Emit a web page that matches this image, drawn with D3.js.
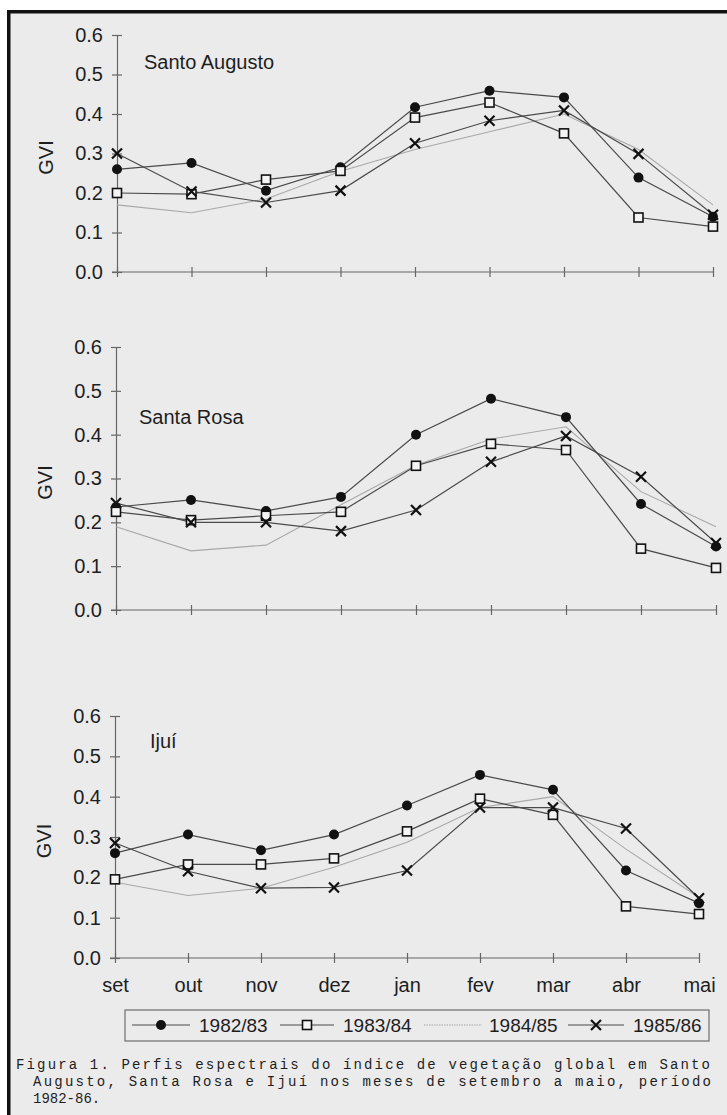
<!DOCTYPE html>
<html>
<head>
<meta charset="utf-8">
<script src="https://cdn.jsdelivr.net/npm/d3@7"></script>
<style>
  html, body { margin: 0; padding: 0; background: #fff; }
  svg text { font-family: "Liberation Sans", Arial, sans-serif; fill: #1e1e1e; }
  .caption text { font-family: "Liberation Mono", "DejaVu Sans Mono", monospace; }
</style>
</head>
<body>
<svg id="chart" width="727" height="1115"></svg>
<script>
// data
const months = ['set', 'out', 'nov', 'dez', 'jan', 'fev', 'mar', 'abr', 'mai'];
const seasons = ['1982/83', '1983/84', '1984/85', '1985/86'];
const yTicks = [0, 0.1, 0.2, 0.3, 0.4, 0.5, 0.6];

const santoAugusto8283 = [0.26, 0.276, 0.206, 0.265, 0.417, 0.459, 0.442, 0.239, 0.14];
const santoAugusto8384 = [0.20, 0.197, 0.234, 0.256, 0.391, 0.429, 0.351, 0.138, 0.115];
const santoAugusto8485 = [0.17, 0.15, 0.185, 0.255, 0.31, 0.355, 0.40, 0.31, 0.17];
const santoAugusto8586 = [0.30, 0.204, 0.176, 0.206, 0.326, 0.383, 0.409, 0.299, 0.145];

const santaRosa8283 = [0.235, 0.251, 0.226, 0.258, 0.40, 0.482, 0.44, 0.242, 0.145];
const santaRosa8384 = [0.224, 0.205, 0.215, 0.224, 0.329, 0.379, 0.365, 0.14, 0.096];
const santaRosa8485 = [0.19, 0.135, 0.148, 0.24, 0.33, 0.39, 0.418, 0.27, 0.19];
const santaRosa8586 = [0.244, 0.20, 0.20, 0.18, 0.228, 0.338, 0.397, 0.304, 0.153];

const ijui8283 = [0.26, 0.306, 0.267, 0.306, 0.378, 0.454, 0.417, 0.217, 0.136];
const ijui8384 = [0.195, 0.232, 0.232, 0.247, 0.314, 0.395, 0.355, 0.128, 0.109];
const ijui8485 = [0.188, 0.155, 0.173, 0.225, 0.287, 0.373, 0.40, 0.27, 0.15];
const ijui8586 = [0.285, 0.215, 0.173, 0.175, 0.217, 0.373, 0.373, 0.321, 0.148];

const captionLines = [
  'Figura 1. Perfis espectrais do índice de vegetação global em Santo',
  'Augusto, Santa Rosa e Ijuí nos meses de setembro a maio, período',
  '1982-86.'
];

const svg = d3.select('#chart');

// scanned page look: grey paper, black frame top/left
svg.append('rect').attr('x', 8).attr('y', 11).attr('width', 719).attr('height', 1104).attr('fill', '#ebebeb');
svg.append('rect').attr('x', 7).attr('y', 10).attr('width', 720).attr('height', 3.5).attr('fill', '#111');
svg.append('rect').attr('x', 7).attr('y', 10).attr('width', 3.5).attr('height', 1105).attr('fill', '#111');

const lineColor = '#4a4a4a';
const lightColor = '#a8a8a8';

function drawMarker(g, type, cx, cy) {
  if (type === 'dot') {
    g.append('circle').attr('cx', cx).attr('cy', cy).attr('r', 5).attr('fill', '#111');
  } else if (type === 'square') {
    g.append('rect').attr('x', cx - 4.5).attr('y', cy - 4.5).attr('width', 9).attr('height', 9)
      .attr('fill', '#f4f4f4').attr('stroke', '#111').attr('stroke-width', 1.6);
  } else if (type === 'cross') {
    const s = 5;
    g.append('path').attr('d', `M${cx - s},${cy - s}L${cx + s},${cy + s}M${cx - s},${cy + s}L${cx + s},${cy - s}`)
      .attr('stroke', '#111').attr('stroke-width', 2.2).attr('fill', 'none');
  }
}

function drawPanel(p) {
  const x = d3.scalePoint().domain(months).range([p.x0, p.x1]);
  const y = d3.scaleLinear().domain([0, 0.6]).range([p.yBottom, p.yTop]);
  const g = svg.append('g');

  // y axis, ticks crossing the line
  const yAxis = d3.axisLeft(y).tickValues(yTicks).tickFormat(d3.format('.1f'))
    .tickSizeInner(5).tickSizeOuter(0).tickPadding(9);
  const ya = g.append('g').attr('transform', `translate(${p.x0},0)`).call(yAxis);
  ya.select('.domain').attr('stroke', '#666').attr('stroke-width', 1.2);
  ya.selectAll('.tick line').attr('x1', 5).attr('x2', -5).attr('stroke', '#666').attr('stroke-width', 1.2);
  ya.selectAll('.tick text').style('font-size', '20px').attr('fill', '#1e1e1e');

  // x axis
  const xAxis = d3.axisBottom(x).tickSizeInner(5).tickSizeOuter(0).tickPadding(15)
    .tickFormat(p.monthLabels ? d => d : () => '');
  const xa = g.append('g').attr('transform', `translate(0,${p.yBottom})`).call(xAxis);
  xa.select('.domain').attr('stroke', '#666').attr('stroke-width', 1.2)
    .attr('d', `M${p.x0 - 5},0H${p.x1}`);
  xa.selectAll('.tick line').attr('y1', -5).attr('y2', 5).attr('stroke', '#666').attr('stroke-width', 1.2);
  xa.selectAll('.tick text').style('font-size', '20px').attr('fill', '#1e1e1e');

  // GVI label
  g.append('text')
    .attr('transform', `translate(${p.x0 - 64},${(p.yTop + p.yBottom) / 2 + 4}) rotate(-90)`)
    .attr('text-anchor', 'middle')
    .style('font-size', '20px')
    .text('GVI');

  // region title
  g.append('text').attr('x', p.titleX).attr('y', p.titleY).style('font-size', '20px').text(p.title);

  const line = d3.line().x((d, i) => x(months[i])).y(d => y(d));

  // light 1984/85 line, no markers
  g.append('path').datum(p.s8485).attr('d', line)
    .attr('fill', 'none').attr('stroke', lightColor).attr('stroke-width', 1.1);

  const marked = [[p.s8283, 'dot'], [p.s8384, 'square'], [p.s8586, 'cross']];
  marked.forEach(([vals]) => {
    g.append('path').datum(vals).attr('d', line)
      .attr('fill', 'none').attr('stroke', lineColor).attr('stroke-width', 1.2);
  });
  marked.forEach(([vals, type]) => {
    vals.forEach((v, i) => drawMarker(g, type, x(months[i]), y(v)));
  });
}

drawPanel({
  title: 'Santo Augusto', titleX: 144, titleY: 69,
  x0: 117, x1: 713, yTop: 35, yBottom: 272, monthLabels: false,
  s8283: santoAugusto8283, s8384: santoAugusto8384, s8485: santoAugusto8485, s8586: santoAugusto8586
});
drawPanel({
  title: 'Santa Rosa', titleX: 139, titleY: 424,
  x0: 116, x1: 716, yTop: 347, yBottom: 610, monthLabels: false,
  s8283: santaRosa8283, s8384: santaRosa8384, s8485: santaRosa8485, s8586: santaRosa8586
});
drawPanel({
  title: 'Ijuí', titleX: 150, titleY: 748,
  x0: 115, x1: 699, yTop: 716, yBottom: 958, monthLabels: true,
  s8283: ijui8283, s8384: ijui8384, s8485: ijui8485, s8586: ijui8586
});

// legend
const legend = svg.append('g');
legend.append('rect').attr('x', 125).attr('y', 1010).attr('width', 584).attr('height', 31)
  .attr('fill', 'none').attr('stroke', '#777').attr('stroke-width', 1.3);
const legendItems = [
  { label: seasons[0], type: 'dot', x0: 132, x1: 190, tx: 199 },
  { label: seasons[1], type: 'square', x0: 280, x1: 334, tx: 343 },
  { label: seasons[2], type: 'light', x0: 424, x1: 482, tx: 489 },
  { label: seasons[3], type: 'cross', x0: 568, x1: 624, tx: 633 }
];
legendItems.forEach(d => {
  const ly = 1025;
  legend.append('line').attr('x1', d.x0).attr('x2', d.x1).attr('y1', ly).attr('y2', ly)
    .attr('stroke', d.type === 'light' ? lightColor : lineColor)
    .attr('stroke-width', d.type === 'light' ? 1.1 : 1.2)
    .attr('stroke-dasharray', d.type === 'light' ? '1.5,1' : null);
  if (d.type !== 'light') drawMarker(legend, d.type, (d.x0 + d.x1) / 2, ly);
  legend.append('text').attr('x', d.tx).attr('y', ly + 7).style('font-size', '19px').text(d.label);
});

// caption (typewriter style, as in the scan)
const caption = svg.append('g').attr('class', 'caption');
captionLines.forEach((t, i) => {
  caption.append('text')
    .attr('x', i === 0 ? 16 : 33)
    .attr('y', 1069 + i * 17)
    .style('font-size', '14px')
    .attr('textLength', i === 0 ? 694 : (i === 1 ? 678 : null))
    .attr('lengthAdjust', 'spacing')
    .text(t);
});
</script>
</body>
</html>
